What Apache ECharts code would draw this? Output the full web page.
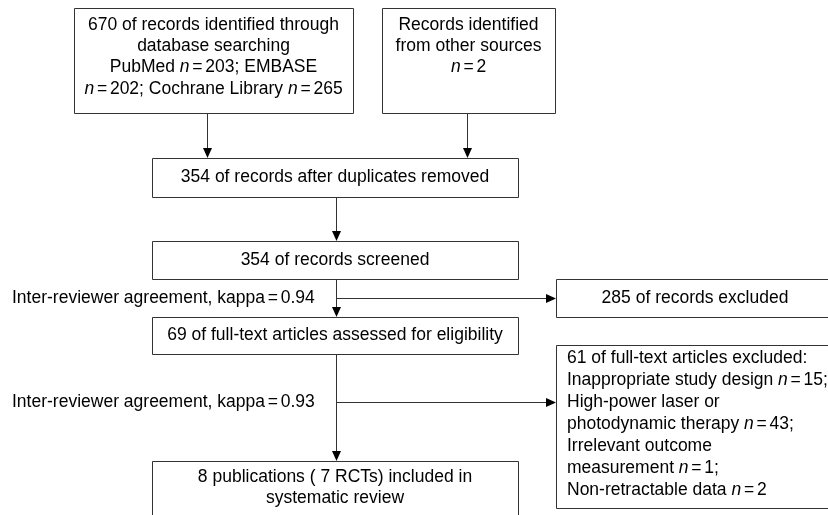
<!DOCTYPE html>
<html>
<head>
<meta charset="utf-8">
<script src="https://cdn.jsdelivr.net/npm/echarts@6/dist/echarts.min.js"></script>
<style>
html,body{margin:0;padding:0;background:#fff;}
#chart{width:828px;height:515px;}
</style>
</head>
<body>
<div id="chart"></div>
<script>
// ---- content (text / numbers) ----
const sourceCounts = [203, 202, 265];          // PubMed, EMBASE, Cochrane Library
const totalDatabase = 670;
const otherSources = 2;
const afterDuplicates = 354;
const screened = 354;
const excludedRecords = 285;
const fullTextAssessed = 69;
const fullTextExcluded = 61;
const exclusionReasons = ['Inappropriate study design', 'High-power laser or photodynamic therapy', 'Irrelevant outcome measurement', 'Non-retractable data'];
const exclusionCounts = [15, 43, 1, 2];
const kappaValues = [0.94, 0.93];
const includedPublications = 8;
const includedRCTs = 7;

const N = '{i|n}';
const EQ = '{s| }={s| }';
const boxLines = [
  [totalDatabase + ' of records identified through', 'database searching',
   'PubMed ' + N + EQ + sourceCounts[0] + '; EMBASE', N + EQ + sourceCounts[1] + '; Cochrane Library ' + N + EQ + sourceCounts[2]],
  ['Records identified', 'from other sources', N + EQ + otherSources],
  [afterDuplicates + ' of records after duplicates removed'],
  [screened + ' of records screened'],
  [excludedRecords + ' of records excluded'],
  [fullTextAssessed + ' of full-text articles assessed for eligibility'],
  [fullTextExcluded + ' of full-text articles excluded:',
   exclusionReasons[0] + ' ' + N + EQ + exclusionCounts[0] + ';',
   'High-power laser or',
   'photodynamic therapy ' + N + EQ + exclusionCounts[1] + ';',
   'Irrelevant outcome',
   'measurement ' + N + EQ + exclusionCounts[2] + ';',
   'Non-retractable data ' + N + EQ + exclusionCounts[3]],
  [includedPublications + ' publications ( ' + includedRCTs + ' RCTs) included in', 'systematic review']
];
const edgeLabels = ['Inter-reviewer agreement, kappa' + EQ + kappaValues[0].toFixed(2),
                    'Inter-reviewer agreement, kappa' + EQ + kappaValues[1].toFixed(2)];

// ---- layout (diagram geometry in canvas units) ----
// [x0, y0, x1, y1, textAnchorX, firstLineCenterY, lineHeight, align]
const boxLayout = [
  [74, 8, 353, 113, 213.5, 25, 21.3, 'center'],
  [382, 8, 555, 113, 468.5, 25, 21.3, 'center'],
  [152, 158, 518, 197, 335, 177, 21, 'center'],
  [152, 241, 518, 279, 335, 260, 21, 'center'],
  [556, 279, 834, 317, 695, 298, 21, 'center'],
  [152, 317, 518, 354, 335, 335.5, 21, 'center'],
  [556, 345, 834, 508, 567, 358, 22, 'left'],
  [152, 461, 518, 540, 335, 477, 21.5, 'center']
];
const edgeLayout = [
  [207, 113, 207, 158],
  [467, 113, 467, 158],
  [336, 197, 336, 241],
  [336, 279, 336, 317],
  [336, 298, 556, 298],
  [336, 354, 336, 461],
  [336, 402, 556, 402]
];
const labelLayout = [[12, 298], [12, 402]];

const FONT = '"Liberation Sans", Arial, Helvetica, sans-serif';
const FS = 17.5;
const STROKE = '#333';

const chart = echarts.init(document.getElementById('chart'), null, {renderer: 'canvas'});

function richFor(lh) {
  return {
    i: { fontStyle: 'italic', fontSize: FS, fontFamily: FONT, fill: '#000', lineHeight: lh },
    s: { fontSize: 10, fontFamily: FONT, fill: '#000', lineHeight: lh }
  };
}

const option = {
  animation: false,
  grid: {left: 0, right: 0, top: 0, bottom: 0},
  xAxis: {type: 'value', min: 0, max: 828, show: false},
  yAxis: {type: 'value', min: 0, max: 515, inverse: true, show: false},
  series: [
    {
      type: 'custom',
      coordinateSystem: 'cartesian2d',
      clip: false,
      data: boxLayout.map((b, i) => b.slice(0, 7).concat([i])),
      renderItem: function (params, api) {
        const i = api.value(7);
        const L = boxLayout[i];
        const p0 = api.coord([L[0], L[1]]);
        const p1 = api.coord([L[2], L[3]]);
        const tp = api.coord([L[4], L[5]]);
        const lh = L[6];
        return {
          type: 'group',
          children: [
            {
              type: 'rect',
              shape: {x: Math.round(p0[0]) + 0.5, y: Math.round(p0[1]) + 0.5,
                      width: Math.round(p1[0] - p0[0]), height: Math.round(p1[1] - p0[1])},
              style: {fill: '#fff', stroke: STROKE, lineWidth: 1}
            },
            {
              type: 'text',
              style: {
                text: boxLines[i].join('\n'),
                x: tp[0], y: tp[1] - lh / 2,
                align: L[7], verticalAlign: 'top',
                fontSize: FS, fontFamily: FONT, fill: '#000',
                lineHeight: lh,
                rich: richFor(lh)
              }
            }
          ]
        };
      }
    },
    {
      type: 'custom',
      coordinateSystem: 'cartesian2d',
      clip: false,
      data: edgeLayout,
      renderItem: function (params, api) {
        const a = api.coord([api.value(0), api.value(1)]);
        const b = api.coord([api.value(2), api.value(3)]);
        const dx = b[0] - a[0], dy = b[1] - a[1];
        const len = Math.sqrt(dx * dx + dy * dy);
        const ux = dx / len, uy = dy / len;
        const hl = 10, hw = 4.5;
        const bx = b[0] - ux * hl, by = b[1] - uy * hl;
        const off = 0.5;
        const ax = Math.round(a[0]) + (ux === 0 ? off : 0), ay = Math.round(a[1]) + (uy === 0 ? off : 0);
        const ex = Math.round(bx) + (ux === 0 ? off : 0), ey = Math.round(by) + (uy === 0 ? off : 0);
        const tx = Math.round(b[0]) + (ux === 0 ? off : 0), ty = Math.round(b[1]) + (uy === 0 ? off : 0);
        return {
          type: 'group',
          children: [
            {type: 'line', shape: {x1: ax, y1: ay, x2: ex, y2: ey}, style: {stroke: STROKE, lineWidth: 1}},
            {type: 'polygon', shape: {points: [[tx, ty], [ex - uy * hw, ey + ux * hw], [ex + uy * hw, ey - ux * hw]]},
             style: {fill: '#000'}}
          ]
        };
      }
    },
    {
      type: 'custom',
      coordinateSystem: 'cartesian2d',
      clip: false,
      data: labelLayout.map((p, i) => [p[0], p[1], i]),
      renderItem: function (params, api) {
        const p = api.coord([api.value(0), api.value(1)]);
        return {
          type: 'text',
          style: {
            text: edgeLabels[api.value(2)],
            x: p[0], y: p[1] - 10.5, align: 'left', verticalAlign: 'top',
            fontSize: FS, fontFamily: FONT, fill: '#000',
            lineHeight: 21,
            rich: richFor(21)
          }
        };
      }
    }
  ]
};
chart.setOption(option);
</script>
</body>
</html>
